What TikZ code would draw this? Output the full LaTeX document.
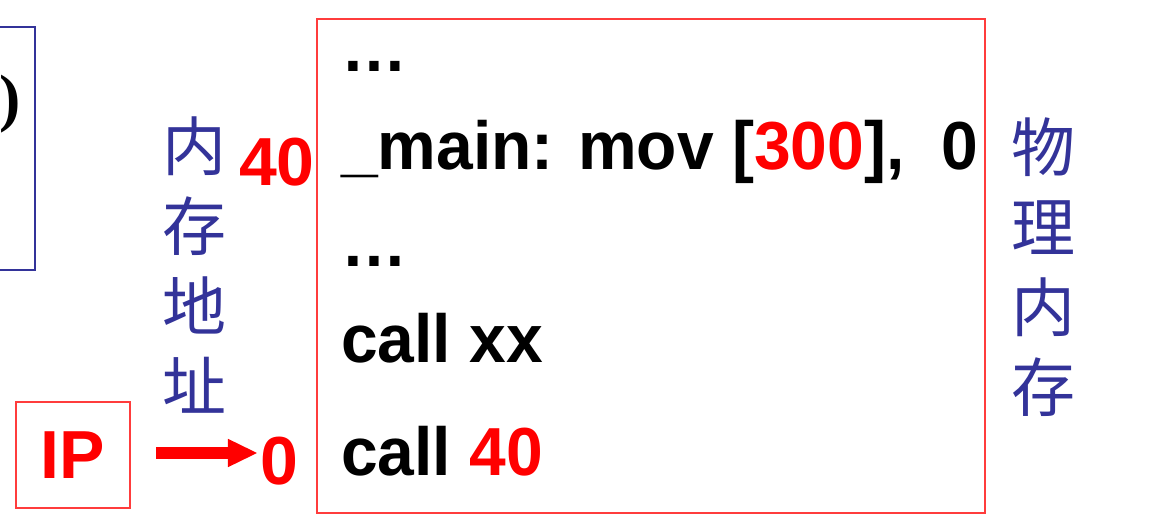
\documentclass[tikz,border=0pt]{standalone}
\usepackage{fontspec}
\setmainfont{Liberation Sans}
\newfontfamily\codefont{Liberation Sans}[FakeStretch=0.97]
\newfontfamily\cjk{Noto Sans CJK SC}
\newfontfamily\serif{Liberation Serif}
\usetikzlibrary{arrows.meta}
\definecolor{mblue}{RGB}{51,51,153}
\definecolor{mred}{RGB}{255,0,0}
\definecolor{boxred}{RGB}{255,60,60}
\tikzset{
  codeline/.style={anchor=base west, inner sep=0pt, font=\codefont\bfseries\fontsize{68}{80}\selectfont, text=black},
  rednum/.style={inner sep=0pt, font=\bfseries\fontsize{68}{80}\selectfont, text=mred},
  vlabel/.style={align=center, inner sep=0pt, text=mblue, font=\cjk\fontsize{64}{80}\selectfont},
  redbox/.style={draw=boxred, line width=2pt},
  fat/.style={draw=mred, line width=12pt, -{Triangle[length=30pt,width=26pt]}}
}
\begin{document}
\begin{tikzpicture}[x=1pt,y=-1pt]
\useasboundingbox (0,0) rectangle (1176,532);
\clip (0,0) rectangle (1176,532);
% partial blue box at left
\draw[draw=mblue, line width=2pt] (-40,27) rectangle (35,270);
\node[inner sep=0pt, anchor=east, font=\serif\bfseries\fontsize{64}{70}\selectfont] (paren) at (21,104) {)};
% memory block
\node[redbox, minimum width=668pt, minimum height=494pt, inner sep=0pt] (mem) at (651,266) {};
\node[codeline] (l1) at (341,72) {…};
\node[codeline] (l2) at (341,170) {\_main: mov [\textcolor{mred}{300}],\ \ 0};
\node[codeline] (l3) at (341,266) {…};
\node[codeline] (l4) at (341,362) {call xx};
\node[codeline] (l5) at (341,475) {call \textcolor{mred}{40}};
% address labels
\node[rednum] (a40) at (277,162) {40};
\node[rednum] (a0) at (279,461) {0};
\node[vlabel] (addr) at (194,265) {内\\存\\地\\址};
\node[vlabel] (phys) at (1043,267) {物\\理\\内\\存};
% IP register
\node[redbox, minimum width=114pt, minimum height=106pt, inner sep=0pt, text=mred, font=\bfseries\fontsize{68}{80}\selectfont] (ip) at (73,455) {IP};
\coordinate (arrEnd) at (a0.west |- ip.east);
\draw[fat] ([xshift=25pt,yshift=2pt]ip.east) -- ([xshift=-2pt,yshift=2pt]arrEnd);
\end{tikzpicture}
\end{document}
